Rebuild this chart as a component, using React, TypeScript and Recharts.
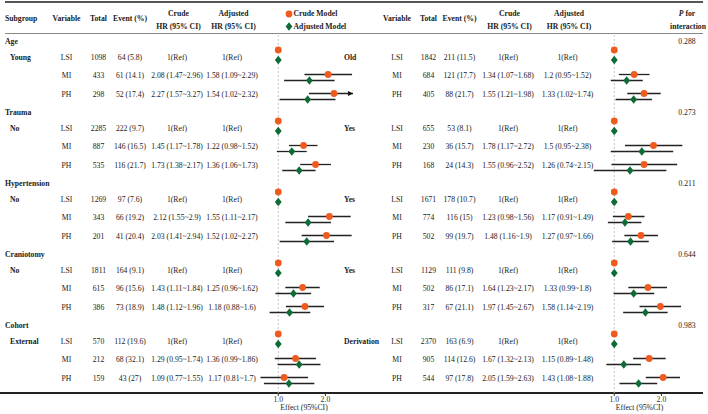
import React from 'react';
import { ScatterChart, Scatter, XAxis, YAxis, ErrorBar, ReferenceLine } from 'recharts';

const groups = ['Age', 'Trauma', 'Hypertension', 'Craniotomy', 'Cohort'];
const leftLevels = ['Young', 'No', 'No', 'No', 'External'];
const rightLevels = ['Old', 'Yes', 'Yes', 'Yes', 'Derivation'];
const pInteraction = ['0.288', '0.273', '0.211', '0.644', '0.983'];
const variables = ['LSI', 'MI', 'PH'];
const xTicks = [1, 2];

const leftTotal = [[1098, 433, 298], [2285, 887, 535], [1269, 343, 201], [1811, 615, 386], [570, 212, 159]];
const leftEvents = [[64, 61, 52], [222, 146, 116], [97, 66, 41], [164, 96, 73], [112, 68, 43]];
const leftPct = [[5.8, 14.1, 17.4], [9.7, 16.5, 21.7], [7.6, 19.2, 20.4], [9.1, 15.6, 18.9], [19.6, 32.1, 27]];
// [HR, lower, upper] for MI and PH (LSI is the reference)
const leftCrude = [
  [[2.08, 1.47, 2.96], [2.27, 1.57, 3.27]],
  [[1.45, 1.17, 1.78], [1.73, 1.38, 2.17]],
  [[2.12, 1.55, 2.9], [2.03, 1.41, 2.94]],
  [[1.43, 1.11, 1.84], [1.48, 1.12, 1.96]],
  [[1.29, 0.95, 1.74], [1.09, 0.77, 1.55]],
];
const leftAdjusted = [
  [[1.58, 1.09, 2.29], [1.54, 1.02, 2.32]],
  [[1.22, 0.98, 1.52], [1.36, 1.06, 1.73]],
  [[1.55, 1.11, 2.17], [1.52, 1.02, 2.27]],
  [[1.25, 0.96, 1.62], [1.18, 0.88, 1.6]],
  [[1.36, 0.99, 1.86], [1.17, 0.81, 1.7]],
];

const rightTotal = [[1842, 684, 405], [655, 230, 168], [1671, 774, 502], [1129, 502, 317], [2370, 905, 544]];
const rightEvents = [[211, 121, 88], [53, 36, 24], [178, 116, 99], [111, 86, 67], [163, 114, 97]];
const rightPct = [[11.5, 17.7, 21.7], [8.1, 15.7, 14.3], [10.7, 15, 19.7], [9.8, 17.1, 21.1], [6.9, 12.6, 17.8]];
const rightCrude = [
  [[1.34, 1.07, 1.68], [1.55, 1.21, 1.98]],
  [[1.78, 1.17, 2.72], [1.55, 0.96, 2.52]],
  [[1.23, 0.98, 1.56], [1.48, 1.16, 1.9]],
  [[1.64, 1.23, 2.17], [1.97, 1.45, 2.67]],
  [[1.67, 1.32, 2.13], [2.05, 1.59, 2.63]],
];
const rightAdjusted = [
  [[1.2, 0.95, 1.52], [1.33, 1.02, 1.74]],
  [[1.5, 0.95, 2.38], [1.26, 0.74, 2.15]],
  [[1.17, 0.91, 1.49], [1.27, 0.97, 1.66]],
  [[1.33, 0.99, 1.8], [1.58, 1.14, 2.19]],
  [[1.15, 0.89, 1.48], [1.43, 1.08, 1.88]],
];

const FONT = '"Liberation Serif", "Times New Roman", serif';
const FS = 7.7;
const ORANGE = '#EF5A1F';
const GREEN = '#0D6B36';
const XMIN = 0.7;
const XMAX = 3;
const PLOT_BOTTOM = 393;
const GROUP_Y0 = 42;
const GROUP_STEP = 71;
const ROW_OFF = [15.5, 34, 53];
const CRUDE_OFF = [8, 32.5, 51.5];
const ADJ_OFF = [18, 38.5, 57.5];

const leftCols = { variable: 66.5, total: 98.5, event: 130, crude: 177, adjusted: 232 };
const rightCols = { variable: 397, total: 428.5, event: 459.5, crude: 508, adjusted: 567.5 };

const fmtCI = (r: number[]) => `${r[0]} (${r[1]}~${r[2]})`;

const T = ({ x, y, bold, italic, align = 'center', children }: any) => (
  <div
    style={{
      position: 'absolute',
      left: x,
      top: y,
      transform: align === 'center' ? 'translate(-50%, -50%)' : 'translate(0, -50%)',
      whiteSpace: 'nowrap',
      lineHeight: 1,
      fontWeight: bold ? 'bold' : 'normal',
      fontStyle: italic ? 'italic' : 'normal',
    }}
  >
    {children}
  </div>
);

const Circle = (p: any) => <circle cx={p.cx} cy={p.cy} r={3.4} fill={ORANGE} />;
const Diamond = (p: any) => (
  <polygon
    points={`${p.cx},${p.cy - 4.3} ${p.cx + 3.4},${p.cy} ${p.cx},${p.cy + 4.3} ${p.cx - 3.4},${p.cy}`}
    fill={GREEN}
  />
);
const Arrow = (p: any) => (
  <polygon points={`${p.cx},${p.cy} ${p.cx - 5},${p.cy - 2.6} ${p.cx - 5},${p.cy + 2.6}`} fill="#111" />
);

const buildPoints = (rows: number[][][], off: number[]) => {
  const pts: any[] = [];
  rows.forEach((g, gi) => {
    variables.forEach((_, vi) => {
      const r = vi === 0 ? [1, 1, 1] : g[vi - 1];
      pts.push({
        x: r[0],
        y: GROUP_Y0 + gi * GROUP_STEP + off[vi],
        err: [r[0] - r[1], Math.min(r[2], XMAX) - r[0]],
        over: r[2] > XMAX,
      });
    });
  });
  return pts;
};

const Forest = ({ crude, adjusted, left }: any) => {
  const crudePts = buildPoints(crude, CRUDE_OFF);
  const adjPts = buildPoints(adjusted, ADJ_OFF);
  const arrows = [...crudePts, ...adjPts].filter((d) => d.over).map((d) => ({ x: XMAX, y: d.y }));
  return (
    <div style={{ position: 'absolute', left, top: 0 }}>
      <ScatterChart width={99} height={414} margin={{ top: 0, right: 0, bottom: 0, left: 0 }}>
        <XAxis
          type="number"
          dataKey="x"
          scale="log"
          domain={[XMIN, XMAX]}
          allowDataOverflow
          ticks={xTicks}
          interval={0}
          tickFormatter={(v: number) => v.toFixed(1)}
          axisLine={false}
          tickSize={3}
          tickMargin={1}
          height={21}
          tickLine={{ stroke: '#333' }}
          tick={{ fontSize: FS, fontFamily: FONT, fill: '#333' }}
        />
        <YAxis type="number" dataKey="y" domain={[0, PLOT_BOTTOM]} reversed hide allowDataOverflow />
        <ReferenceLine
          segment={[{ x: 1, y: 35 }, { x: 1, y: PLOT_BOTTOM }]}
          stroke="#c4c4c4"
          strokeDasharray="2 2"
        />
        <Scatter data={crudePts} shape={Circle} isAnimationActive={false}>
          <ErrorBar dataKey="err" direction="x" width={0} stroke="#222" strokeWidth={1.3} />
        </Scatter>
        <Scatter data={adjPts} shape={Diamond} isAnimationActive={false}>
          <ErrorBar dataKey="err" direction="x" width={0} stroke="#222" strokeWidth={1.3} />
        </Scatter>
        <Scatter data={arrows} shape={Arrow} isAnimationActive={false} />
      </ScatterChart>
    </div>
  );
};

const TableHalf = ({ cols, levels, total, events, pct, crude, adjusted, right }: any) => (
  <>
    {groups.map((g, gi) => {
      const gy = GROUP_Y0 + gi * GROUP_STEP;
      return (
        <React.Fragment key={gi}>
          {!right && <T x={5} y={gy} bold align="left">{g}</T>}
          <T x={right ? 344 : 10} y={gy + ROW_OFF[0]} bold align="left">{levels[gi]}</T>
          {variables.map((v, vi) => {
            const y = gy + ROW_OFF[vi];
            return (
              <React.Fragment key={vi}>
                <T x={cols.variable} y={y}>{v}</T>
                <T x={cols.total} y={y}>{total[gi][vi]}</T>
                <T x={cols.event} y={y}>{`${events[gi][vi]} (${pct[gi][vi]})`}</T>
                <T x={cols.crude} y={y}>{vi === 0 ? '1(Ref)' : fmtCI(crude[gi][vi - 1])}</T>
                <T x={cols.adjusted} y={y}>{vi === 0 ? '1(Ref)' : fmtCI(adjusted[gi][vi - 1])}</T>
              </React.Fragment>
            );
          })}
          {right && <T x={687} y={gy}>{pInteraction[gi]}</T>}
        </React.Fragment>
      );
    })}
    <T x={cols.variable} y={18.5} bold>Variable</T>
    <T x={cols.total} y={18.5} bold>Total</T>
    <T x={cols.event} y={18.5} bold>Event (%)</T>
    <T x={cols.crude + 1.5} y={14} bold>Crude</T>
    <T x={cols.crude + 1.5} y={26.5} bold>HR (95% CI)</T>
    <T x={cols.adjusted + 1.5} y={14} bold>Adjusted</T>
    <T x={cols.adjusted + 1.5} y={26.5} bold>HR (95% CI)</T>
  </>
);

export default function App() {
  return (
    <div
      style={{
        position: 'relative',
        width: 708,
        height: 414,
        background: '#fff',
        fontFamily: FONT,
        fontSize: FS,
        color: '#1a1a1a',
        overflow: 'hidden',
      }}
    >
      <style>{'body{margin:0}'}</style>
      <div style={{ position: 'absolute', left: 5, top: 1, width: 698, height: 2, background: '#555' }} />
      <div style={{ position: 'absolute', left: 5, top: 33, width: 698, height: 1.3, background: '#888' }} />
      <div style={{ position: 'absolute', left: 0, top: 392, width: 703, height: 1.6, background: '#222' }} />

      <T x={5} y={18.5} bold align="left">Subgroup</T>
      <TableHalf
        cols={leftCols}
        levels={leftLevels}
        total={leftTotal}
        events={leftEvents}
        pct={leftPct}
        crude={leftCrude}
        adjusted={leftAdjusted}
      />
      <TableHalf
        cols={rightCols}
        levels={rightLevels}
        total={rightTotal}
        events={rightEvents}
        pct={rightPct}
        crude={rightCrude}
        adjusted={rightAdjusted}
        right
      />
      <T x={687} y={14} bold><i>P</i> for</T>
      <T x={688} y={26.5} bold>interaction</T>

      <svg style={{ position: 'absolute', left: 284, top: 9 }} width={10} height={22}>
        <circle cx={5} cy={5} r={3.4} fill={ORANGE} />
        <polygon points="5,13.2 8.4,17.5 5,21.8 1.6,17.5" fill={GREEN} />
      </svg>
      <T x={293.5} y={14} bold align="left">Crude Model</T>
      <T x={293.5} y={26.5} bold align="left">Adjusted Model</T>

      <Forest crude={leftCrude} adjusted={leftAdjusted} left={254} />
      <Forest crude={rightCrude} adjusted={rightAdjusted} left={589.5} />
      <T x={304} y={408}>Effect (95%CI)</T>
      <T x={639.5} y={408}>Effect (95%CI)</T>
    </div>
  );
}
